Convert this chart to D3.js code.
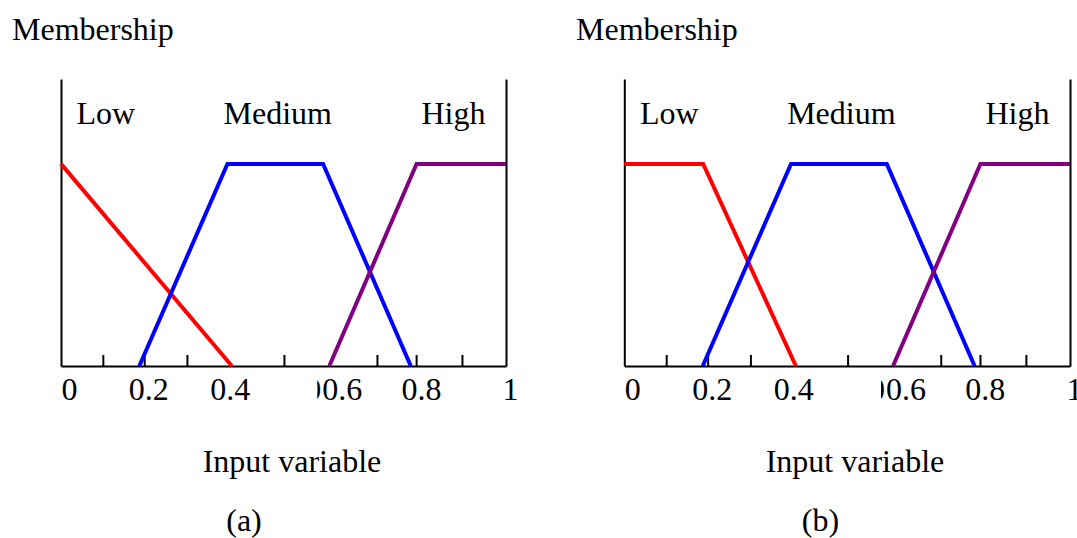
<!DOCTYPE html>
<html>
<head>
<meta charset="utf-8">
<script src="https://cdn.jsdelivr.net/npm/d3@7"></script>
<style>
  html, body { margin: 0; padding: 0; background: #fff; }
  svg { display: block; }
  text { font-family: "Liberation Serif", "Times New Roman", serif; fill: #000; }
</style>
</head>
<body>
<svg id="chart" width="1077" height="538"></svg>
<script>
// ---------- data ----------
const categories = ["Low", "Medium", "High"];
const categoryPos = [0.035, 0.487, 0.882];       // x-values where labels sit
const xTickMarks = [0.094, 0.187, 0.283, 0.501, 0.71, 0.798, 0.901];
const xTickLabels = ["0", "0.2", "0.4", "0.6", "0.8", "1"];
const xTickLabelPos = [0.018, 0.196, 0.379, 0.631, 0.809, 1.009];

// panel (a)
const lowA_x = [0, 0.384];
const lowA_y = [1, 0];
// panel (b)
const lowB_x = [0, 0.177, 0.385];
const lowB_y = [1, 1, 0];
// shared
const medium_x = [0.176, 0.374, 0.589, 0.786];
const medium_y = [0, 1, 1, 0];
const high_x = [0.603, 0.799, 1];
const high_y = [0, 1, 1];

const panelNames = ["(a)", "(b)"];
const yLabel = "Membership";
const xLabel = "Input variable";

// ---------- layout ----------
(function () {
const svg = d3.select("#chart");
const FONT = 32;
const panels = [
  { left: 61, right: 506, low: [lowA_x, lowA_y], yLabelX: 12, xLabelCx: 292, nameCx: 244 },
  { left: 624.3, right: 1070, low: [lowB_x, lowB_y], yLabelX: 576, xLabelCx: 855, nameCx: 820.5 }
];
const yBottom = 366, yTop = 79;
const y = d3.scaleLinear().domain([0, 1.42]).range([yBottom, yTop]);

const colors = { Low: "#ff0000", Medium: "#0000ff", High: "#800080" };
const zip = (xs, ys) => xs.map((v, i) => [v, ys[i]]);

panels.forEach((p, pi) => {
  const x = d3.scaleLinear().domain([0, 1]).range([p.left, p.right]);
  const g = svg.append("g");

  // y-axis label
  g.append("text").attr("x", p.yLabelX).attr("y", 40)
    .style("font-size", FONT + "px").text(yLabel);

  // vertical axes
  g.append("g").attr("transform", `translate(${p.left},0)`)
    .call(d3.axisLeft(y).tickValues([]).tickSizeOuter(0))
    .call(s => s.select(".domain").attr("stroke", "#000").attr("stroke-width", 2));
  g.append("g").attr("transform", `translate(${p.right},0)`)
    .call(d3.axisRight(y).tickValues([]).tickSizeOuter(0))
    .call(s => s.select(".domain").attr("stroke", "#000").attr("stroke-width", 2));

  // bottom axis with inward ticks
  g.append("g").attr("transform", `translate(0,${yBottom})`)
    .call(d3.axisBottom(x).tickValues(xTickMarks).tickSizeInner(-11).tickSizeOuter(0).tickFormat(""))
    .call(s => {
      s.select(".domain").attr("stroke", "#000").attr("stroke-width", 2);
      s.selectAll(".tick line").attr("stroke", "#000").attr("stroke-width", 2);
    });

  // tick labels
  const lab = g.append("g").attr("transform", `translate(0,${yBottom})`)
    .call(d3.axisBottom(x).tickValues(xTickLabelPos).tickSize(0).tickPadding(11.5)
      .tickFormat((d, i) => xTickLabels[i]))
    .call(s => {
      s.select(".domain").remove();
      s.attr("font-family", null).attr("font-size", null);
      s.selectAll("text").style("font-size", FONT + "px").attr("fill", "#000");
    });

  // stray clipped glyph before "0.6"
  const i6 = xTickLabels.indexOf("0.6");
  const cx6 = x(xTickLabelPos[i6]);
  const tmp = svg.append("text").style("font-size", FONT + "px").text("0.6").attr("opacity", 0);
  const w6 = tmp.node().getComputedTextLength();
  tmp.remove();
  const startX = cx6 - w6 / 2;
  const clipId = "clip6_" + pi;
  svg.append("clipPath").attr("id", clipId).append("rect")
    .attr("x", startX - 4.5).attr("y", yBottom).attr("width", 4).attr("height", 60);
  g.append("text").attr("clip-path", `url(#${clipId})`)
    .attr("x", startX - 0.5).attr("y", yBottom + 11.5).attr("dy", "0.71em")
    .attr("text-anchor", "end").style("font-size", FONT + "px").text("0");

  // category labels
  categories.forEach((c, i) => {
    g.append("text").attr("x", x(categoryPos[i])).attr("y", 123.5)
      .attr("text-anchor", i === 0 ? "start" : "middle")
      .style("font-size", FONT + "px").text(c);
  });

  // membership functions
  const line = d3.line().x(d => x(d[0])).y(d => y(d[1]));
  const series = [
    ["Low", zip(p.low[0], p.low[1])],
    ["Medium", zip(medium_x, medium_y)],
    ["High", zip(high_x, high_y)]
  ];
  g.append("g").selectAll("path").data(series).join("path")
    .attr("d", d => line(d[1]))
    .attr("fill", "none")
    .attr("stroke", d => colors[d[0]])
    .attr("stroke-width", 4)
    .attr("stroke-linejoin", "miter");

  // x-axis title and panel name
  g.append("text").attr("x", p.xLabelCx).attr("y", 471.5).attr("text-anchor", "middle")
    .style("font-size", FONT + "px").text(xLabel);
  g.append("text").attr("x", p.nameCx).attr("y", 531).attr("text-anchor", "middle")
    .style("font-size", FONT + "px").text(panelNames[pi]);
});
})();
</script>
</body>
</html>
